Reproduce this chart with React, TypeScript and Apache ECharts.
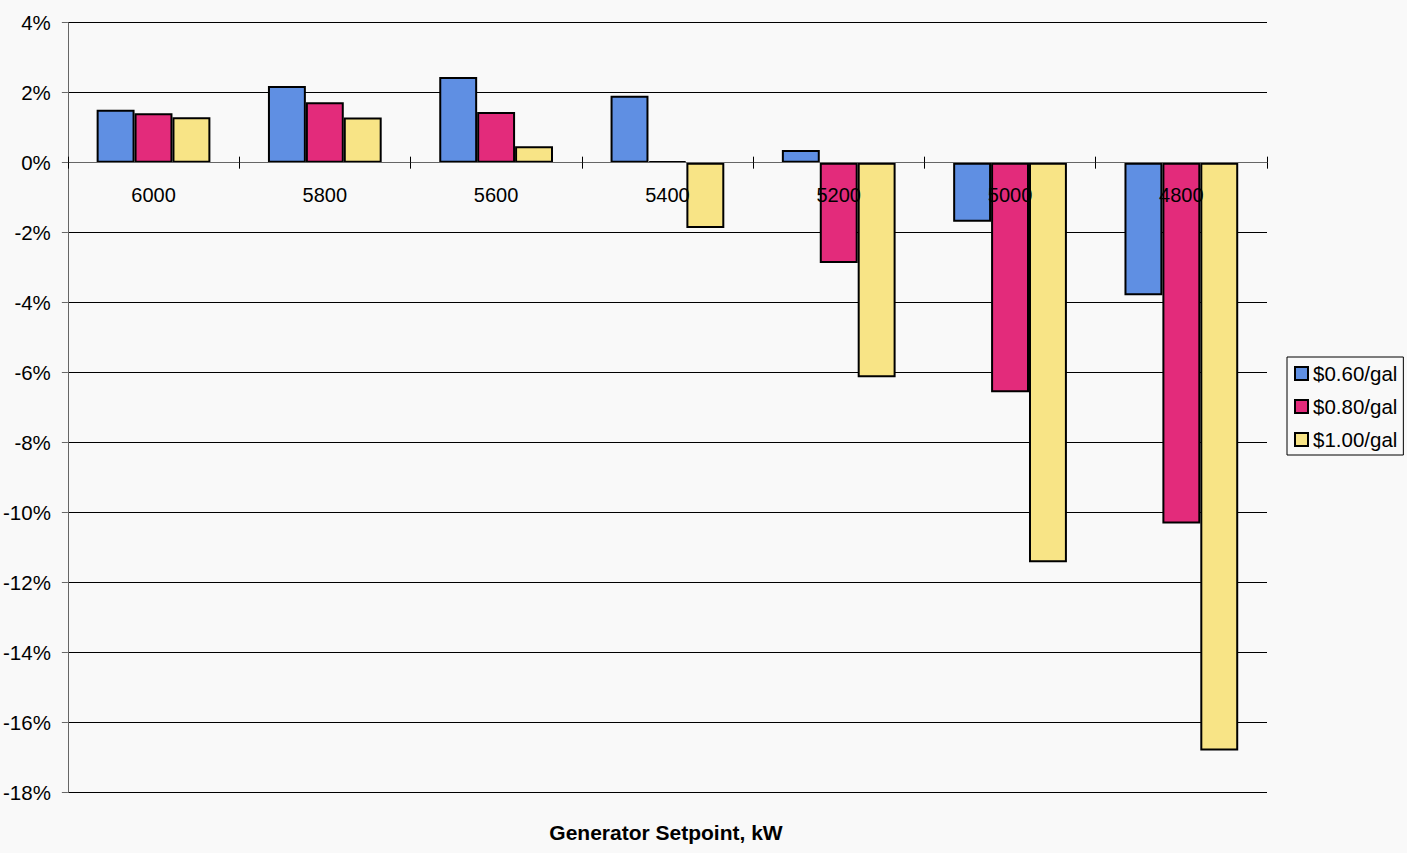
import React, { useEffect, useRef } from "react";
import * as echarts from "echarts";

const categories = ["6000", "5800", "5600", "5400", "5200", "5000", "4800"];
const seriesNames = ["$0.60/gal", "$0.80/gal", "$1.00/gal"];
const price060 = [1.51, 2.19, 2.45, 1.91, 0.36, -1.69, -3.79];
const price080 = [1.41, 1.73, 1.45, 0.04, -2.87, -6.56, -10.31];
const price100 = [1.3, 1.29, 0.47, -1.87, -6.13, -11.42, -16.8];
const colors = ["#5f8fe3", "#e32b7b", "#f8e486"];
const yMin = -18;
const yMax = 4;
const yInterval = 2;
const xAxisTitle = "Generator Setpoint, kW";

const FONT = 'Arial, "Liberation Sans", Helvetica, sans-serif';

const GRID_TOP = 22.7;
const GRID_BOTTOM = 60.5;
const HEIGHT = 853;

export default function App() {
  const ref = useRef<HTMLDivElement>(null);
  useEffect(() => {
    if (!ref.current) return;
    const chart = echarts.init(ref.current, undefined, { renderer: "svg" });
    const data = [price060, price080, price100];
    const plotH = HEIGHT - GRID_TOP - GRID_BOTTOM;
    // distance from the grid bottom up to the 0 value line
    const zeroOffset = -(plotH * (0 - yMin)) / (yMax - yMin);
    chart.setOption({
      animation: false,
      backgroundColor: "#f9f9f9",
      textStyle: { fontFamily: FONT },
      grid: { left: 65, right: 140, top: GRID_TOP, bottom: GRID_BOTTOM, containLabel: false },
      legend: {
        orient: "vertical",
        left: 1287,
        top: 357,
        padding: [6, 6, 5, 7],
        itemGap: 12,
        itemWidth: 13,
        itemHeight: 13,
        borderColor: "#000",
        borderWidth: 1,
        backgroundColor: "#f9f9f9",
        icon: "rect",
        itemStyle: { borderColor: "#000", borderWidth: 2 },
        textStyle: { fontSize: 20.5, color: "#000", fontFamily: FONT },
        data: seriesNames,
      },
      xAxis: [
        {
          type: "category",
          data: categories,
          position: "bottom",
          offset: zeroOffset,
          axisLine: { onZero: false, lineStyle: { color: "#666", width: 1 } },
          axisTick: { show: true, length: 6, inside: false, lineStyle: { color: "#000" } },
          axisLabel: { fontSize: 20, color: "#000", margin: 22, fontFamily: FONT },
          splitLine: { show: false },
          z: 4,
        },
        {
          type: "category",
          data: categories,
          position: "bottom",
          offset: zeroOffset,
          axisLine: { show: false, onZero: false },
          axisTick: { show: true, length: 6, inside: true, lineStyle: { color: "#000" } },
          axisLabel: { show: false },
          splitLine: { show: false },
          z: 4,
        },
      ],
      yAxis: {
        type: "value",
        min: yMin,
        max: yMax,
        interval: yInterval,
        axisLine: { show: true, lineStyle: { color: "#666", width: 1 } },
        axisTick: { show: true, length: 6, lineStyle: { color: "#666" } },
        axisLabel: {
          fontSize: 20.5,
          color: "#000",
          margin: 17,
          fontFamily: FONT,
          formatter: (v: number) => `${v}%`,
        },
        splitLine: { show: true, lineStyle: { color: "#000", width: 1 } },
      },
      graphic: [
        {
          type: "text",
          x: 666,
          y: 832,
          style: {
            text: xAxisTitle,
            fontSize: 21,
            fontWeight: "bold",
            fill: "#000",
            fontFamily: FONT,
            textAlign: "center",
            textVerticalAlign: "middle",
          },
        },
      ],
      series: seriesNames.map((name, i) => ({
        name,
        type: "bar",
        xAxisIndex: 0,
        data: data[i],
        barGap: "0%",
        barCategoryGap: "33.6%",
        itemStyle: { color: colors[i], borderColor: "#000", borderWidth: 2 },
        z: 3,
      })),
    });
    return () => chart.dispose();
  }, []);
  return (
    <div
      ref={ref}
      style={{ position: "fixed", left: 0, top: 0, width: 1407, height: 853 }}
    />
  );
}
